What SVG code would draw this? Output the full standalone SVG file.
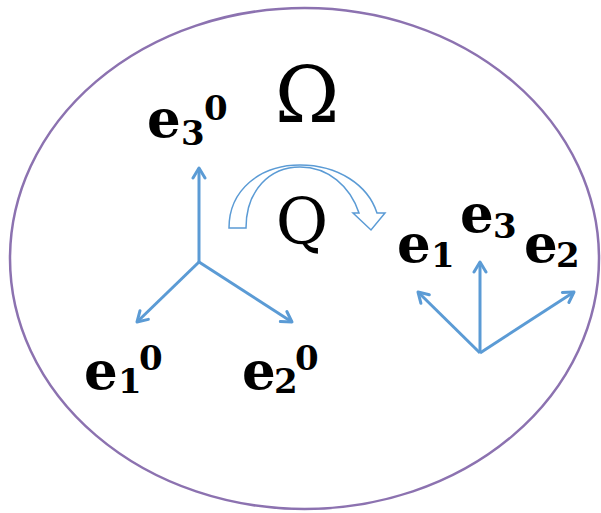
<svg xmlns="http://www.w3.org/2000/svg" width="601" height="513" viewBox="0 0 601 513">
<style>
.lab{font-family:"DejaVu Serif","Liberation Serif",serif;fill:#000}
.e{font-weight:bold;font-size:53px}
.d{font-weight:bold;font-size:34px}
.vec{stroke:#5b9bd5;stroke-width:3;fill:none;marker-end:url(#ah)}
</style>
<defs>
<marker id="ah" markerUnits="userSpaceOnUse" markerWidth="16" markerHeight="16" viewBox="0 0 16 16" refX="13" refY="8" orient="auto">
<path d="M3,2 L13,8 L3,14" fill="none" stroke="#5b9bd5" stroke-width="3" stroke-linejoin="round" stroke-linecap="round"/>
</marker>
</defs>
<rect width="601" height="513" fill="#fff"/>
<g id="domain">
<ellipse cx="304.5" cy="258.5" rx="294.5" ry="250.5" fill="none" stroke="#8c72b0" stroke-width="2.5"/>
</g>
<g id="connectors">
<line class="vec" x1="199" y1="262" x2="199" y2="168"/>
<line class="vec" x1="199" y1="262" x2="137" y2="322"/>
<line class="vec" x1="199" y1="262" x2="292" y2="322"/>
<line class="vec" x1="480" y1="353" x2="480" y2="262"/>
<line class="vec" x1="480" y1="353" x2="418" y2="292"/>
<line class="vec" x1="480" y1="353" x2="574" y2="292"/>
</g>
<g id="rotation-arrow">
<path d="M229,228 C229,190 260,165 300,165 C338,165 368,185 377,213 L385,213 L371,230 L353,213 L359,213 C350,186 328,167 300,167 C270,167 246,190 246,228 Z" fill="#fff" stroke="#5b9bd5" stroke-width="1.5" stroke-linejoin="miter"/>
</g>
<g id="label-omega"><text class="lab" x="307" y="122" font-size="78" text-anchor="middle">Ω</text></g>
<g id="label-Q"><text class="lab" x="302" y="244" font-size="64" text-anchor="middle">Q</text></g>
<g id="label-e30"><text class="lab"><tspan class="e" x="147" y="137">e</tspan><tspan class="d" x="181" y="145">3</tspan><tspan class="d" x="204" y="120">0</tspan></text></g>
<g id="label-e10"><text class="lab"><tspan class="e" x="84" y="389">e</tspan><tspan class="d" x="118" y="393">1</tspan><tspan class="d" x="139" y="370">0</tspan></text></g>
<g id="label-e20"><text class="lab"><tspan class="e" x="242" y="389">e</tspan><tspan class="d" x="274" y="393">2</tspan><tspan class="d" x="295" y="370">0</tspan></text></g>
<g id="label-e1"><text class="lab"><tspan class="e" x="397" y="262">e</tspan><tspan class="d" x="431" y="267">1</tspan></text></g>
<g id="label-e3"><text class="lab"><tspan class="e" x="460" y="232">e</tspan><tspan class="d" x="493" y="238">3</tspan></text></g>
<g id="label-e2"><text class="lab"><tspan class="e" x="524" y="262">e</tspan><tspan class="d" x="556" y="267">2</tspan></text></g>
</svg>
